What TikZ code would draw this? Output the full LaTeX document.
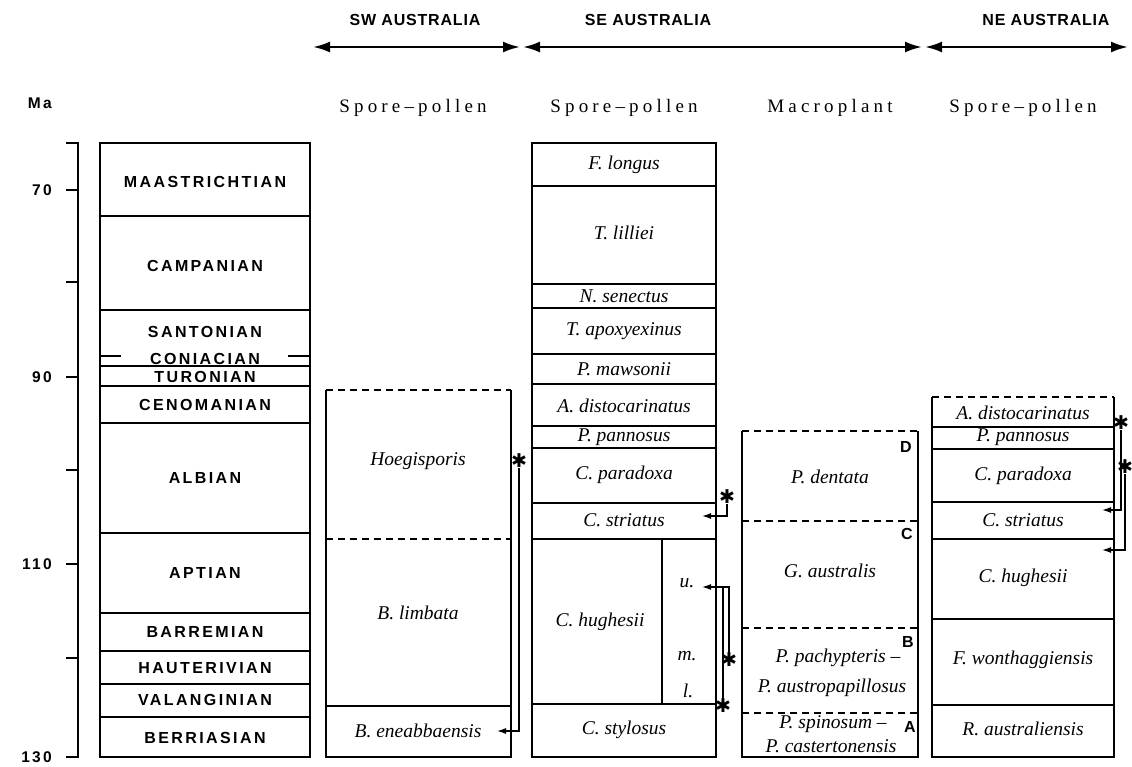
\documentclass[tikz,border=0pt]{standalone}
\usepackage{fontspec}
\setmainfont{Liberation Serif}
\newfontfamily\stagefont{Liberation Sans}[LetterSpace=15]
\newfontfamily\headfont{Liberation Sans}[LetterSpace=5]
\newfontfamily\subfont{Liberation Serif}[LetterSpace=22]
\newfontfamily\symfont{DejaVu Sans}
\usetikzlibrary{arrows.meta}
\tikzset{
  stg/.style={font={\stagefont\bfseries\fontsize{16}{16}\selectfont}, inner sep=0pt},
  ax/.style={font={\stagefont\bfseries\fontsize{15.5}{15.5}\selectfont}, inner sep=0pt, anchor=east},
  hdr/.style={font={\headfont\bfseries\fontsize{16}{16}\selectfont}, inner sep=0pt},
  sub/.style={font={\subfont\fontsize{19}{19}\selectfont}, inner sep=0pt},
  tax/.style={font={\itshape\fontsize{19.5}{19.5}\selectfont}, inner sep=0pt},
  zl/.style={font={\stagefont\bfseries\fontsize{16}{16}\selectfont}, inner sep=0pt},
  ast/.style={font={\symfont\fontsize{19}{19}\selectfont}, inner sep=0pt},
  box/.style={line width=1.3pt},
  dsh/.style={line width=1.3pt, dash pattern=on 7pt off 5pt},
  link/.style={line width=1.3pt, -{Latex[length=9pt,width=6pt]}},
  plain/.style={line width=1.3pt},
  bigarrow/.style={line width=2.4pt, {Latex[length=17pt,width=11pt]}-{Latex[length=17pt,width=11pt]}}
}
\begin{document}
\begin{tikzpicture}[x=1pt,y=-1pt]
\useasboundingbox (0,0) rectangle (1132,766);
\fill[white] (0,0) rectangle (1132,766);

% ---------- headers ----------
\node[hdr] (hsw) at (415,20) {SW AUSTRALIA};
\node[hdr] (hse) at (648,20) {SE AUSTRALIA};
\node[hdr] (hne) at (1046,20) {NE AUSTRALIA};
\coordinate (swL) at (313,47); \coordinate (swR) at (520,47);
\coordinate (seL) at (523,47); \coordinate (seR) at (922,47);
\coordinate (neL) at (925,47); \coordinate (neR) at (1128,47);
\draw[bigarrow] (swL) -- (swR);
\draw[bigarrow] (seL) -- (seR);
\draw[bigarrow] (neL) -- (neR);

\node[sub] (s1) at (413,108) {Spore–pollen};
\node[sub] (s2) at (624,108) {Spore–pollen};
\node[sub] (s3) at (830,108) {Macroplant};
\node[sub] (s4) at (1023,108) {Spore–pollen};

% ---------- age axis ----------
\node[ax] (ma) at (52,103) {Ma};
\draw[box] (66,143) -- (78,143) -- (78,757) -- (66,757);
\foreach \yy in {190,282,377,470,564,658} \draw[box] (66,\yy) -- (78,\yy);
\node[ax] (a70) at (52,190) {70};
\node[ax] (a90) at (52,377) {90};
\node[ax] (a110) at (52,564) {110};
\node[ax] (a130) at (52,757) {130};

% ---------- stages ----------
\draw[box] (100,143) rectangle (310,757);
\foreach \yy in {216,310,366,386,423,533,613,651,684,717} \draw[box] (100,\yy) -- (310,\yy);
\draw[box] (100,356) -- (121,356);
\draw[box] (288,356) -- (310,356);
\node[stg] (maa) at (205,182) {MAASTRICHTIAN};
\node[stg] (cam) at (205,266) {CAMPANIAN};
\node[stg] (san) at (205,332) {SANTONIAN};
\node[stg] (con) at (205,359) {CONIACIAN};
\node[stg] (tur) at (205,377) {TURONIAN};
\node[stg] (cen) at (205,405) {CENOMANIAN};
\node[stg] (alb) at (205,478) {ALBIAN};
\node[stg] (apt) at (205,573) {APTIAN};
\node[stg] (bar) at (205,632) {BARREMIAN};
\node[stg] (hau) at (205,668) {HAUTERIVIAN};
\node[stg] (val) at (205,700) {VALANGINIAN};
\node[stg] (ber) at (205,738) {BERRIASIAN};

% ---------- SW Australia ----------
\draw[dsh] (326,390) -- (511,390);
\draw[dsh] (326,539) -- (511,539);
\draw[box] (326,390) -- (326,757) -- (511,757) -- (511,390);
\draw[box] (326,706) -- (511,706);
\node[tax] (hoe) at (418,461) {Hoegisporis};
\node[tax] (bli) at (418,613) {B. limbata};
\node[tax] (ben) at (418,731) {B. eneabbaensis};
\node[ast] (k1) at (519,461) {✱};
\coordinate (t1) at (497,731);
\draw[link] (k1.south) |- (t1);

% ---------- SE Australia spore-pollen ----------
\draw[box] (532,143) rectangle (716,757);
\foreach \yy in {186,284,308,354,384,426,448,503,539,704} \draw[box] (532,\yy) -- (716,\yy);
\draw[box] (662,539) -- (662,704);
\node[tax] (flo) at (624,165) {F. longus};
\node[tax] (tli) at (624,233) {T. lilliei};
\node[tax] (nse) at (624,296) {N. senectus};
\node[tax] (tap) at (624,331) {T. apoxyexinus};
\node[tax] (pma) at (624,369) {P. mawsonii};
\node[tax] (adi) at (624,406) {A. distocarinatus};
\node[tax] (ppa) at (624,437) {P. pannosus};
\node[tax] (cpa) at (624,475) {C. paradoxa};
\node[tax] (cst) at (624,520) {C. striatus};
\node[tax] (chu) at (600,622) {C. hughesii};
\node[tax] (cut) at (687,583) {u.};
\node[tax] (cmi) at (687,656) {m.};
\node[tax] (clo) at (688,691) {l.};
\node[tax] (csy) at (624,730) {C. stylosus};
\node[ast] (k2) at (727,497) {✱};
\coordinate (t2) at (702,516);
\draw[link] (k2.south) |- (t2);
\node[ast] (k3) at (729,660) {✱};
\node[ast] (k4) at (723,706) {✱};
\coordinate (t3) at (702,587);
\draw[link] (k3.north) |- (t3);
\draw[plain] (k4.north) -- (723,587);

% ---------- SE Australia macroplant ----------
\draw[dsh] (742,431) -- (918,431);
\draw[dsh] (742,521) -- (918,521);
\draw[dsh] (742,628) -- (918,628);
\draw[dsh] (742,713) -- (918,713);
\draw[box] (742,431) -- (742,757) -- (918,757) -- (918,431);
\node[zl] (zd) at (906,447) {D};
\node[zl] (zc) at (907,534) {C};
\node[zl] (zb) at (908,642) {B};
\node[zl] (za) at (910,727) {A};
\node[tax] (pde) at (830,477) {P. dentata};
\node[tax] (gau) at (830,571) {G. australis};
\node[tax] (ppy) at (838,658) {P. pachypteris –};
\node[tax] (pau) at (832,688) {P. austropapillosus};
\node[tax] (psp) at (833,724) {P. spinosum –};
\node[tax] (pca) at (831,746) {P. castertonensis};

% ---------- NE Australia ----------
\draw[dsh] (932,397) -- (1114,397);
\draw[box] (932,397) -- (932,757) -- (1114,757) -- (1114,397);
\foreach \yy in {427,449,502,539,619,705} \draw[box] (932,\yy) -- (1114,\yy);
\node[tax] (nad) at (1023,413) {A. distocarinatus};
\node[tax] (npp) at (1023,437) {P. pannosus};
\node[tax] (ncp) at (1023,476) {C. paradoxa};
\node[tax] (ncs) at (1023,520) {C. striatus};
\node[tax] (nch) at (1023,578) {C. hughesii};
\node[tax] (nfw) at (1023,660) {F. wonthaggiensis};
\node[tax] (nra) at (1023,729) {R. australiensis};
\node[ast] (k5) at (1121,423) {✱};
\coordinate (t5) at (1102,510);
\draw[link] (k5.south) |- (t5);
\node[ast] (k6) at (1125,467) {✱};
\coordinate (t6) at (1102,550);
\draw[link] (k6.south) |- (t6);
\end{tikzpicture}
\end{document}
